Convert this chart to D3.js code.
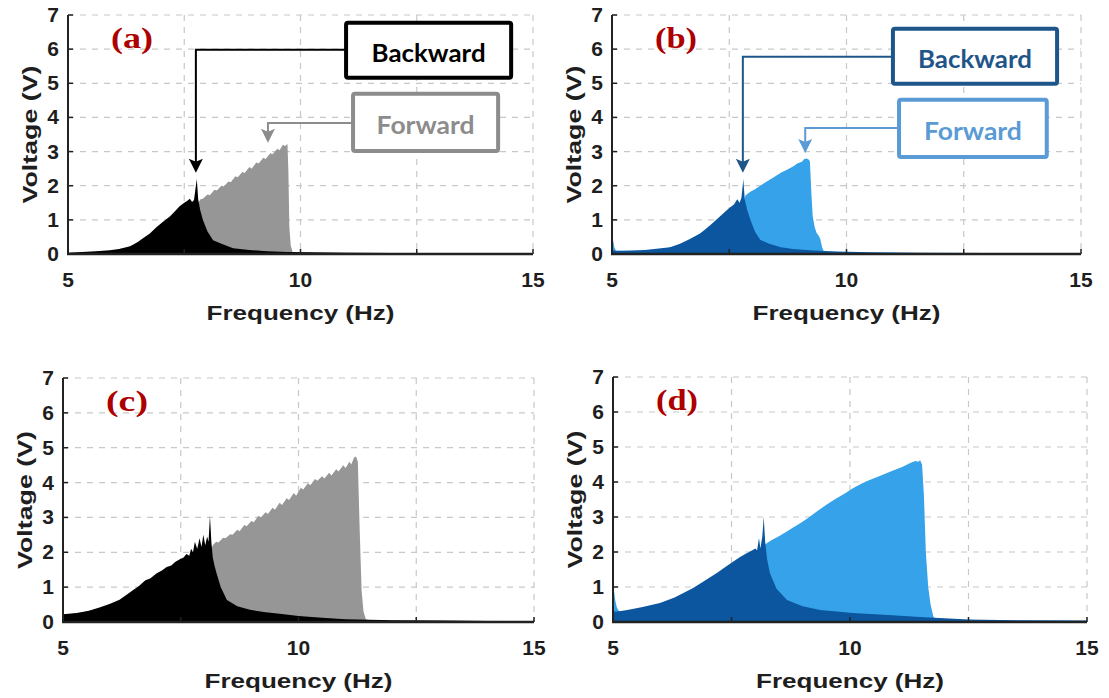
<!DOCTYPE html>
<html>
<head>
<meta charset="utf-8">
<script src="https://cdn.jsdelivr.net/npm/d3@7/dist/d3.min.js"></script>
<style>
body { margin: 0; background: #fff; }
.tickLabel { font-family: "Liberation Sans", Arial, sans-serif; font-weight: bold; font-size: 21px; fill: #1e1e1e; }
.axisTitle { font-family: "Liberation Sans", Arial, sans-serif; font-weight: bold; font-size: 21px; fill: #1e1e1e; }
.panelTag { font-family: "Liberation Serif", "Times New Roman", serif; font-weight: bold; font-size: 30px; fill: #ad0000; }
.calloutText { font-family: Lato, "Open Sans", sans-serif; font-weight: bold; font-size: 24px; }
</style>
</head>
<body>
<svg id="chart" width="1109" height="698"></svg>
<script>

// ---- data (Hz, V) ----
var aBackHz = [5.0, 5.3, 5.6, 5.9, 6.1, 6.33, 6.5, 6.62, 6.76, 6.9, 7.05, 7.19, 7.3, 7.4, 7.5, 7.56, 7.62, 7.67, 7.71, 7.74, 7.77, 7.8, 7.84, 7.9, 8.0, 8.12, 8.3, 8.55, 8.9, 9.28, 9.7, 10.2, 11, 12, 13, 14, 15];
var aBackV  = [0.04, 0.06, 0.08, 0.11, 0.15, 0.22, 0.35, 0.47, 0.6, 0.78, 0.95, 1.1, 1.25, 1.4, 1.5, 1.55, 1.62, 1.52, 1.58, 1.9, 2.2, 1.6, 1.3, 1.0, 0.66, 0.4, 0.3, 0.17, 0.12, 0.08, 0.06, 0.05, 0.04, 0.03, 0.03, 0.02, 0.02];
var aForHz  = [5.0, 5.5, 6.0, 6.5, 7.0, 7.5, 7.75, 7.8, 7.85, 7.9, 8.0, 8.05, 8.15, 8.2, 8.3, 8.35, 8.45, 8.5, 8.6, 8.65, 8.75, 8.8, 8.9, 8.95, 9.05, 9.1, 9.2, 9.25, 9.35, 9.4, 9.5, 9.55, 9.62, 9.67, 9.72, 9.74, 9.76, 9.79, 9.83, 10, 12, 15];
var aForV   = [0.03, 0.05, 0.1, 0.3, 0.8, 1.4, 1.5, 1.5, 1.6, 1.62, 1.74, 1.72, 1.88, 1.86, 2.0, 1.98, 2.12, 2.1, 2.28, 2.25, 2.4, 2.37, 2.55, 2.5, 2.68, 2.65, 2.82, 2.78, 2.95, 2.92, 3.08, 3.04, 3.2, 3.16, 3.22, 2.4, 0.8, 0.25, 0.06, 0.04, 0.03, 0.02];

var bBackHz = [5.0, 5.1, 5.4, 5.7, 6.0, 6.24, 6.45, 6.65, 6.88, 7.1, 7.3, 7.5, 7.6, 7.67, 7.72, 7.76, 7.8, 7.83, 7.88, 7.95, 8.05, 8.16, 8.35, 8.6, 8.86, 9.3, 9.8, 10.5, 11.5, 13, 15];
var bBackV  = [0.12, 0.09, 0.1, 0.12, 0.16, 0.2, 0.3, 0.43, 0.6, 0.85, 1.1, 1.35, 1.45, 1.6, 1.5, 1.65, 2.2, 1.6, 1.3, 1.0, 0.65, 0.42, 0.3, 0.2, 0.15, 0.1, 0.07, 0.05, 0.04, 0.03, 0.03];
var bForHz  = [5.0, 5.01, 5.03, 5.05, 5.08, 5.5, 6.0, 6.5, 7.0, 7.5, 7.8, 7.85, 7.95, 8.05, 8.16, 8.3, 8.45, 8.6, 8.75, 8.86, 8.95, 9.05, 9.1, 9.15, 9.2, 9.22, 9.25, 9.28, 9.32, 9.36, 9.4, 9.44, 9.48, 9.52, 10, 12, 15];
var bForV   = [0.55, 0.5, 0.35, 0.2, 0.1, 0.08, 0.12, 0.28, 0.7, 1.3, 1.5, 1.72, 1.82, 1.9, 2.0, 2.12, 2.25, 2.38, 2.48, 2.56, 2.65, 2.7, 2.78, 2.8, 2.76, 2.7, 1.8, 1.1, 0.8, 0.62, 0.55, 0.45, 0.2, 0.06, 0.04, 0.03, 0.02];

var cBackHz = [5.0, 5.3, 5.55, 5.79, 6.0, 6.2, 6.35, 6.49, 6.6, 6.75, 6.85, 6.99, 7.1, 7.2, 7.3, 7.38, 7.48, 7.56, 7.62, 7.68, 7.72, 7.76, 7.8, 7.85, 7.9, 7.94, 7.98, 8.02, 8.06, 8.09, 8.12, 8.15, 8.18, 8.22, 8.26, 8.35, 8.48, 8.7, 8.97, 9.3, 9.6, 10.0, 10.5, 11, 12, 13, 14, 15];
var cBackV  = [0.22, 0.26, 0.32, 0.42, 0.52, 0.64, 0.78, 0.92, 1.02, 1.2, 1.25, 1.4, 1.48, 1.58, 1.62, 1.72, 1.8, 1.85, 1.95, 1.9, 2.1, 2.0, 2.3, 2.1, 2.4, 2.15, 2.5, 2.2, 2.45, 2.3, 3.05, 2.3, 1.85, 1.6, 1.4, 1.0, 0.63, 0.45, 0.35, 0.28, 0.24, 0.17, 0.12, 0.08, 0.05, 0.04, 0.03, 0.03];
var cForHz  = [5.0, 5.5, 6.0, 6.5, 7.0, 7.5, 8.0, 8.15, 8.18, 8.25, 8.3, 8.4, 8.45, 8.55, 8.6, 8.7, 8.75, 8.85, 8.9, 9.0, 9.05, 9.15, 9.2, 9.3, 9.35, 9.45, 9.5, 9.6, 9.65, 9.75, 9.8, 9.9, 9.95, 10.05, 10.1, 10.2, 10.25, 10.35, 10.4, 10.5, 10.55, 10.65, 10.7, 10.8, 10.85, 10.95, 11.0, 11.08, 11.12, 11.18, 11.22, 11.26, 11.3, 11.34, 11.38, 11.43, 11.5, 12, 15];
var cForV   = [0.2, 0.3, 0.45, 0.85, 1.3, 1.7, 2.0, 2.1, 2.2, 2.3, 2.28, 2.42, 2.4, 2.52, 2.5, 2.65, 2.6, 2.78, 2.75, 2.9, 2.86, 3.05, 3.0, 3.15, 3.1, 3.28, 3.22, 3.42, 3.36, 3.55, 3.5, 3.7, 3.62, 3.85, 3.8, 3.98, 3.92, 4.1, 4.05, 4.18, 4.12, 4.28, 4.2, 4.38, 4.32, 4.5, 4.42, 4.6, 4.52, 4.72, 4.75, 4.6, 2.6, 0.9, 0.3, 0.08, 0.05, 0.04, 0.03];

var dBackHz = [5.0, 5.05, 5.1, 5.3, 5.6, 5.99, 6.3, 6.69, 6.9, 7.19, 7.4, 7.68, 7.8, 7.95, 8.0, 8.04, 8.08, 8.11, 8.15, 8.18, 8.21, 8.25, 8.31, 8.45, 8.67, 9.0, 9.37, 10.06, 10.8, 11.48, 12.5, 13.5, 15];
var dBackV  = [0.3, 0.3, 0.3, 0.34, 0.42, 0.54, 0.7, 0.97, 1.15, 1.4, 1.6, 1.86, 1.95, 2.06, 2.1, 2.05, 2.4, 2.1, 2.45, 3.0, 2.3, 1.8, 1.4, 0.95, 0.63, 0.45, 0.34, 0.26, 0.2, 0.14, 0.07, 0.05, 0.04];
var dForHz  = [5.0, 5.02, 5.05, 5.08, 5.12, 5.2, 5.6, 6.0, 6.7, 7.2, 7.7, 8.0, 8.2, 8.25, 8.35, 8.5, 8.65, 8.8, 8.95, 9.1, 9.3, 9.51, 9.7, 9.9, 10.06, 10.25, 10.4, 10.6, 10.78, 10.95, 11.1, 11.27, 11.38, 11.44, 11.48, 11.52, 11.56, 11.6, 11.65, 11.7, 11.76, 11.82, 12.5, 15];
var dForV   = [1.05, 0.9, 0.6, 0.42, 0.32, 0.3, 0.38, 0.5, 0.9, 1.3, 1.8, 2.0, 2.2, 2.26, 2.34, 2.45, 2.57, 2.7, 2.82, 2.96, 3.16, 3.36, 3.52, 3.68, 3.82, 3.96, 4.05, 4.16, 4.26, 4.35, 4.43, 4.54, 4.6, 4.58, 4.62, 4.5, 3.6, 2.0, 1.0, 0.5, 0.15, 0.05, 0.04, 0.03];

var xTicks = [5, 7.5, 10, 12.5, 15];
var xTickLabels = [5, 10, 15];
var yTicks = [0, 1, 2, 3, 4, 5, 6, 7];

var panels = [
    { tag: '(a)', left: 68,  right: 533,  top: 15,  bottom: 254, back: [aBackHz, aBackV], fwd: [aForHz, aForV], backCol: '#000000', fwdCol: '#969696' },
    { tag: '(b)', left: 612, right: 1081, top: 15,  bottom: 254, back: [bBackHz, bBackV], fwd: [bForHz, bForV], backCol: '#0b569e', fwdCol: '#36a2ea' },
    { tag: '(c)', left: 63,  right: 534,  top: 378, bottom: 622, back: [cBackHz, cBackV], fwd: [cForHz, cForV], backCol: '#000000', fwdCol: '#969696' },
    { tag: '(d)', left: 613, right: 1087, top: 377, bottom: 622, back: [dBackHz, dBackV], fwd: [dForHz, dForV], backCol: '#0b569e', fwdCol: '#36a2ea' }
];

// callouts on the top row, placed in data units
var callouts = [
    { panel: 0, label: 'Backward', col: '#000000', tip: [7.75, 2.38], elbowV: 5.98, box: [10.98, 14.53, 6.77, 5.16], textLen: 114 },
    { panel: 0, label: 'Forward',  col: '#8c8c8c', tip: [9.3, 3.26],  elbowV: 3.84, box: [11.13, 14.25, 4.69, 3.02], textLen: 98 },
    { panel: 1, label: 'Backward', col: '#1f5689', tip: [7.79, 2.38], elbowV: 5.78, box: [10.99, 14.49, 6.6, 4.99], textLen: 114 },
    { panel: 1, label: 'Forward',  col: '#5a9bd5', tip: [9.12, 2.96], elbowV: 3.69, box: [11.12, 14.27, 4.52, 2.84], textLen: 98 }
];

var svg = d3.select('#chart');
svg.append('rect').attr('width', 1109).attr('height', 698).attr('fill', '#fff');

function zipSeries(s) {
    return s[0].map(function(hz, i) { return { hz: hz, v: s[1][i] }; });
}

function drawPanel(p, idx) {
    var x = d3.scaleLinear().domain([5, 15]).range([p.left, p.right]);
    var y = d3.scaleLinear().domain([0, 7]).range([p.bottom, p.top]);
    p.x = x; p.y = y;

    var g = svg.append('g').classed('panel', true);

    g.append('clipPath').attr('id', 'clip' + idx)
    .append('rect')
    .attr('x', p.left).attr('y', p.top)
    .attr('width', p.right - p.left).attr('height', p.bottom - p.top);

    //grid
    g.selectAll('.hgrid')
    .data(yTicks.slice(1))
    .enter()
    .append('line')
    .attr('x1', p.left).attr('x2', p.right)
    .attr('y1', function(d) { return y(d); })
    .attr('y2', function(d) { return y(d); })
    .attr('stroke', '#c8c8c8')
    .attr('stroke-width', 1.2)
    .attr('stroke-dasharray', '6,6');

    g.selectAll('.vgrid')
    .data(xTicks.slice(1))
    .enter()
    .append('line')
    .attr('y1', p.top).attr('y2', p.bottom)
    .attr('x1', function(d) { return x(d); })
    .attr('x2', function(d) { return x(d); })
    .attr('stroke', '#c8c8c8')
    .attr('stroke-width', 1.2)
    .attr('stroke-dasharray', '6,6');

    var area = d3.area()
    .x(function(d) { return x(d.hz); })
    .y0(y(0))
    .y1(function(d) { return y(d.v); });

    // forward underneath, backward on top
    g.append('path')
    .attr('clip-path', 'url(#clip' + idx + ')')
    .attr('d', area(zipSeries(p.fwd)))
    .attr('fill', p.fwdCol);

    g.append('path')
    .attr('clip-path', 'url(#clip' + idx + ')')
    .attr('d', area(zipSeries(p.back)))
    .attr('fill', p.backCol);

    //axes
    g.append('line')
    .attr('x1', p.left).attr('x2', p.left)
    .attr('y1', p.top).attr('y2', p.bottom)
    .attr('stroke', '#222').attr('stroke-width', 2);

    g.append('line')
    .attr('x1', p.left - 1).attr('x2', p.right)
    .attr('y1', p.bottom).attr('y2', p.bottom)
    .attr('stroke', '#222').attr('stroke-width', 2.5);

    g.selectAll('.ytick')
    .data(yTicks)
    .enter()
    .append('line')
    .attr('x1', p.left).attr('x2', p.left + 5)
    .attr('y1', function(d) { return y(d); })
    .attr('y2', function(d) { return y(d); })
    .attr('stroke', '#222').attr('stroke-width', 1.5);

    g.selectAll('.xtick')
    .data(xTicks)
    .enter()
    .append('line')
    .attr('x1', function(d) { return x(d); })
    .attr('x2', function(d) { return x(d); })
    .attr('y1', p.bottom).attr('y2', p.bottom - 5)
    .attr('stroke', '#222').attr('stroke-width', 1.5);

    g.selectAll('.yLabel')
    .data(yTicks)
    .enter()
    .append('text')
    .classed('tickLabel', true)
    .attr('x', p.left - 9)
    .attr('y', function(d) { return y(d) + 7; })
    .attr('text-anchor', 'end')
    .text(function(d) { return d; });

    g.selectAll('.xLabel')
    .data(xTickLabels)
    .enter()
    .append('text')
    .classed('tickLabel', true)
    .attr('x', function(d) { return x(d); })
    .attr('y', p.bottom + 33)
    .attr('text-anchor', 'middle')
    .text(function(d) { return d; });

    g.append('text')
    .classed('axisTitle', true)
    .attr('x', (p.left + p.right) / 2)
    .attr('y', p.bottom + 66)
    .attr('text-anchor', 'middle')
    .attr('textLength', 188)
    .attr('lengthAdjust', 'spacingAndGlyphs')
    .text('Frequency (Hz)');

    g.append('text')
    .classed('axisTitle', true)
    .attr('transform', 'translate(' + (p.left - 31) + ',' + ((p.top + p.bottom) / 2) + ')rotate(-90)')
    .attr('text-anchor', 'middle')
    .attr('textLength', 138)
    .attr('lengthAdjust', 'spacingAndGlyphs')
    .text('Voltage (V)');

    g.append('text')
    .classed('panelTag', true)
    .attr('x', p.left + 64)
    .attr('y', p.top + 33)
    .attr('text-anchor', 'middle')
    .attr('textLength', 42)
    .attr('lengthAdjust', 'spacingAndGlyphs')
    .text(p.tag);
}

function drawCallout(c) {
    var p = panels[c.panel];
    var x = p.x, y = p.y;
    var g = svg.append('g').classed('callout', true);

    var tipX = x(c.tip[0]), tipY = y(c.tip[1]);
    var elbowY = y(c.elbowV);
    var bx0 = x(c.box[0]), bx1 = x(c.box[1]);
    var by0 = y(c.box[2]), by1 = y(c.box[3]);

    g.append('path')
    .attr('d', 'M' + bx0 + ',' + elbowY + 'H' + tipX + 'V' + (tipY - 10))
    .attr('fill', 'none')
    .attr('stroke', c.col)
    .attr('stroke-width', 2);

    // arrow head
    g.append('path')
    .attr('d', 'M' + tipX + ',' + tipY +
        'L' + (tipX - 7) + ',' + (tipY - 14) +
        'L' + tipX + ',' + (tipY - 11) +
        'L' + (tipX + 7) + ',' + (tipY - 14) + 'Z')
    .attr('fill', c.col);

    g.append('rect')
    .attr('x', bx0).attr('y', by0)
    .attr('width', bx1 - bx0).attr('height', by1 - by0)
    .attr('rx', 2)
    .attr('fill', '#fff')
    .attr('stroke', c.col)
    .attr('stroke-width', 4);

    g.append('text')
    .classed('calloutText', true)
    .attr('x', (bx0 + bx1) / 2)
    .attr('y', (by0 + by1) / 2 + 12)
    .attr('text-anchor', 'middle')
    .attr('textLength', c.textLen)
    .attr('lengthAdjust', 'spacingAndGlyphs')
    .attr('fill', c.col)
    .text(c.label);
}

panels.forEach(drawPanel);
callouts.forEach(drawCallout);

</script>
</body>
</html>
